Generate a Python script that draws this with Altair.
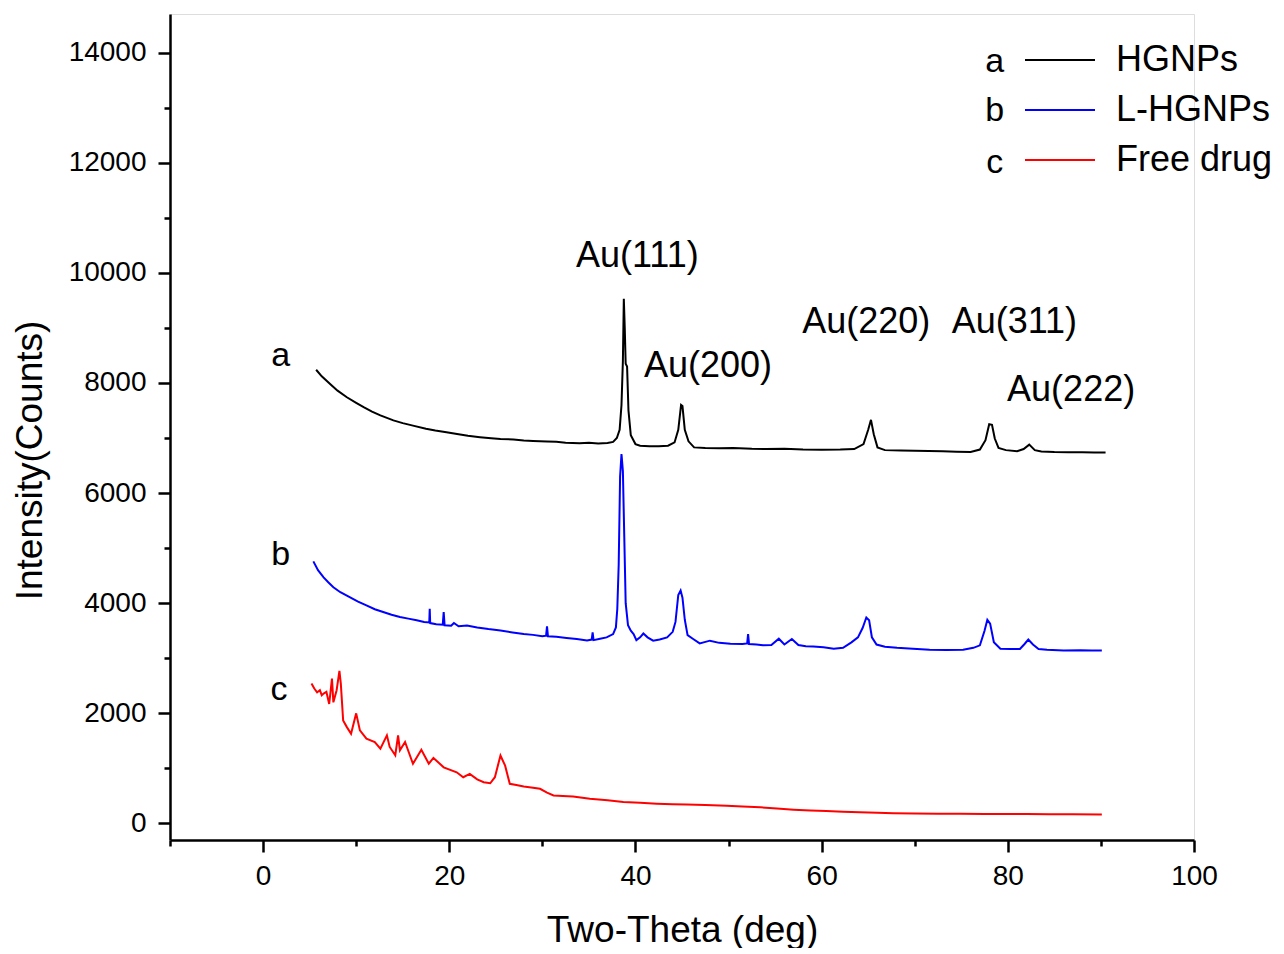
import altair as alt
import pandas as pd

# ---------------- data ----------------
series_names = ["HGNPs", "L-HGNPs", "Free drug"]
series_colors = ["#000000", "#0000ff", "#ff0000"]

hgnps_x = [5.7, 6.3, 7.2, 8.0, 9.0, 10.0, 10.8, 11.7, 12.6, 14.0, 15.0, 16.1, 17.5, 18.5, 19.7,
           21.0, 22.0, 23.3, 24.5, 25.5, 26.9, 28.0, 29.0, 30.5, 31.5, 32.5, 34.0, 35.0, 36.0,
           37.0, 37.6, 38.0, 38.3, 38.5, 38.65, 38.75, 38.85, 38.95, 39.1, 39.25, 39.5, 40.0,
           40.5, 41.5, 42.5, 43.5, 44.2, 44.6, 44.9, 45.05, 45.3, 45.7, 46.3, 47.5, 49.0, 50.5,
           52.5, 54.0, 56.0, 58.0, 60.0, 62.0, 63.5, 64.5, 65.0, 65.3, 65.6, 66.0, 66.8, 68.5,
           70.0, 71.5, 73.0, 74.5, 76.0, 77.0, 77.6, 78.0, 78.3, 78.6, 79.0, 79.8, 81.0, 81.7,
           82.3, 82.9, 83.6, 85.0, 86.5, 88.0, 89.3, 90.5]
hgnps_y = [8240, 8120, 7980, 7860, 7740, 7640, 7560, 7480, 7410, 7320, 7270, 7225, 7170, 7135, 7105,
           7070, 7040, 7015, 6995, 6980, 6975, 6955, 6945, 6935, 6930, 6915, 6905, 6915, 6900,
           6910, 6930, 7000, 7150, 7600, 8400, 9530, 9000, 8350, 8300, 7500, 7050, 6890,
           6860, 6850, 6850, 6860, 6920, 7150, 7600, 7580, 7150, 6940, 6830, 6820, 6815, 6820,
           6805, 6800, 6805, 6790, 6785, 6790, 6800, 6890, 7150, 7330, 7070, 6830, 6780, 6775,
           6770, 6765, 6760, 6750, 6745, 6790, 6960, 7250, 7240, 6990, 6820, 6780, 6760, 6800,
           6880, 6780, 6755, 6745, 6740, 6740, 6735, 6735]

lhgnps_x = [5.4, 5.9, 6.5, 7.0, 7.55, 8.3, 9.3, 10.2, 11.1, 12.0, 12.9, 13.8, 14.7, 15.6, 16.5,
            17.3, 17.85, 17.9, 17.95, 18.6, 19.3, 19.4, 19.5, 20.2, 20.5, 21.0, 21.9, 23.0, 24.2,
            25.5, 26.8, 28.0, 29.0, 30.0, 30.4, 30.5, 30.6, 31.5, 32.6, 33.7, 34.8, 35.3, 35.4,
            35.5, 36.2, 36.9, 37.6, 37.9, 38.05, 38.2, 38.35, 38.5, 38.65, 38.8, 38.95, 39.2,
            39.5, 39.8, 40.1, 40.5, 40.85, 41.3, 41.9, 42.6, 43.4, 44.0, 44.3, 44.6, 44.85,
            45.05, 45.3, 45.6, 46.2, 46.9, 48.0, 49.0, 50.2, 51.5, 52.0, 52.1, 52.2, 53.0, 53.7,
            54.6, 55.4, 56.0, 56.8, 57.5, 58.3, 59.1, 60.2, 61.3, 62.3, 63.2, 63.9, 64.4, 64.8,
            65.1, 65.4, 65.9, 66.8, 68.1, 69.8, 71.6, 73.4, 75.2, 76.3, 77.0, 77.5, 77.8, 78.1,
            78.5, 79.2, 80.3, 81.3, 81.8, 82.2, 82.7, 83.3, 84.2, 86.0, 87.8, 89.0, 90.1]
lhgnps_y = [4760, 4600, 4470, 4380, 4290, 4200, 4110, 4030, 3960, 3890, 3840, 3790, 3750, 3720, 3690,
            3660, 3650, 3900, 3640, 3620, 3610, 3840, 3600, 3590, 3640, 3580, 3595, 3560, 3530,
            3505, 3470, 3440, 3425, 3400, 3410, 3580, 3400, 3390, 3370, 3350, 3325, 3340, 3470,
            3330, 3355, 3380, 3440, 3560, 3900, 4700, 6300, 6710, 6400, 5200, 4000, 3600,
            3500, 3440, 3330, 3380, 3450, 3380, 3320, 3340, 3380, 3480, 3660, 4150, 4230,
            4100, 3700, 3420, 3350, 3270, 3320, 3280, 3265, 3260, 3270, 3440, 3260, 3250, 3235,
            3240, 3355, 3250, 3350, 3240, 3220, 3215, 3200, 3175, 3190, 3290, 3380, 3550, 3740,
            3690, 3380, 3250, 3210, 3190, 3175, 3155, 3150, 3155, 3190, 3235, 3500, 3700, 3630,
            3290, 3175, 3170, 3170, 3260, 3340, 3250, 3170, 3155, 3140, 3145, 3140, 3140]

drug_x = [5.2, 5.5, 5.8, 6.1, 6.3, 6.5, 6.8, 7.1, 7.4, 7.55, 7.9, 8.2, 8.35, 8.6, 9.0, 9.45, 10.0,
          10.4, 11.1, 12.0, 12.6, 13.3, 13.6, 14.2, 14.5, 14.7, 15.25, 16.1, 17.0, 17.8, 18.3,
          19.4, 20.8, 21.5, 22.2, 23.0, 23.7, 24.4, 24.9, 25.5, 26.0, 26.5, 27.2, 28.0, 29.0,
          29.75, 30.5, 31.2, 32.2, 33.3, 35.1, 37.0, 38.7, 40.5, 42.3, 44.0, 45.5, 47.5, 49.8,
          51.5, 53.4, 55.2, 57.0, 58.8, 60.5, 62.3, 64.1, 66.0, 67.7, 70.0, 72.5, 74.9, 77.5,
          80.0, 82.0, 84.5, 87.0, 90.1]
drug_y = [2540, 2450, 2380, 2420, 2330, 2360, 2390, 2170, 2630, 2200, 2420, 2770, 2540, 1870, 1750,
          1630, 2000, 1690, 1540, 1480, 1360, 1600, 1390, 1240, 1600, 1330, 1480, 1085, 1340,
          1085, 1190, 1020, 930, 840, 900, 800, 750, 730, 840, 1235, 1050, 720, 700, 670, 650,
          630, 560, 510, 500, 490, 450, 420, 390, 375, 360, 350, 345, 335, 320, 310, 295, 270,
          250, 235, 225, 215, 205, 195, 187, 182, 178, 176, 174, 172, 170, 168, 166, 163]

# peak labels and curve letters (text annotations, data coordinates)
peak_labels = ["Au(111)", "Au(200)", "Au(220)", "Au(311)", "Au(222)"]
peak_label_x = [40.2, 47.8, 64.8, 80.7, 86.8]
peak_label_y = [10314, 8299, 9098, 9098, 7863]

curve_letters = ["a", "b", "c"]
curve_letter_x = [1.9, 1.9, 1.7]
curve_letter_y = [8498, 4867, 2415]

legend_letter_x = [78.6, 78.6, 78.6]
legend_letter_y = [13830, 12930, 12000]

x_ticks = list(range(-10, 101, 10))
y_ticks = list(range(0, 14001, 1000))

# ---------------- build table ----------------
frames = []
for name, xs, ys in [(series_names[0], hgnps_x, hgnps_y),
                     (series_names[1], lhgnps_x, lhgnps_y),
                     (series_names[2], drug_x, drug_y)]:
    frames.append(pd.DataFrame({"theta": xs, "counts": ys, "sample": name}))
df = pd.concat(frames, ignore_index=True)

peaks_df = pd.DataFrame({"label": peak_labels, "theta": peak_label_x, "counts": peak_label_y})
letters_df = pd.DataFrame({"label": curve_letters + curve_letters,
                           "theta": curve_letter_x + legend_letter_x,
                           "counts": curve_letter_y + legend_letter_y})

FONT = "Liberation Sans"

x_scale = alt.Scale(domain=[-10, 100], nice=False, zero=False)
y_scale = alt.Scale(domain=[-300, 14700], nice=False, zero=False)

x_axis = alt.Axis(
    title="Two-Theta (deg)", values=x_ticks, grid=False,
    labelExpr="datum.value % 20 === 0 ? datum.label : ''",
    tickSize={"condition": {"test": "datum.value % 20 === 0", "value": 12}, "value": 6},
    labelFontSize=28, labelFont=FONT, labelColor="#000", labelPadding=10,
    labelOverlap=False, labelFlush=False,
    titleFontSize=37, titleFont=FONT, titleFontWeight="normal", titleColor="#000",
    titlePadding=22,
    domainColor="#000", domainWidth=2.5, tickColor="#000", tickWidth=2.5,
)
y_axis = alt.Axis(
    title="Intensity(Counts)", values=y_ticks, grid=False, format="d",
    labelExpr="datum.value % 2000 === 0 ? datum.label : ''",
    tickSize={"condition": {"test": "datum.value % 2000 === 0", "value": 12}, "value": 6},
    labelFontSize=28, labelFont=FONT, labelColor="#000", labelPadding=12,
    labelOverlap=False, labelFlush=False,
    titleFontSize=37, titleFont=FONT, titleFontWeight="normal", titleColor="#000",
    titlePadding=19, titleY=446,
    domainColor="#000", domainWidth=2.5, tickColor="#000", tickWidth=2.5,
)

lines = alt.Chart(df).mark_line(strokeWidth=2, clip=True).encode(
    x=alt.X("theta:Q", scale=x_scale, axis=x_axis),
    y=alt.Y("counts:Q", scale=y_scale, axis=y_axis),
    color=alt.Color(
        "sample:N",
        scale=alt.Scale(domain=series_names, range=series_colors),
        legend=alt.Legend(
            title=None, orient="none", legendX=872, legendY=28, padding=0,
            symbolType="M-2.5,0H2.5", symbolSize=784, symbolStrokeWidth=2,
            labelFontSize=36, labelFont=FONT, labelColor="#000", labelOffset=38,
            rowPadding=14,
        ),
    ),
    order=alt.Order("theta:Q"),
)

peak_text = alt.Chart(peaks_df).mark_text(
    font=FONT, fontSize=36, color="#000", align="center", baseline="middle"
).encode(x=alt.X("theta:Q", scale=x_scale), y=alt.Y("counts:Q", scale=y_scale), text="label:N")

letter_text = alt.Chart(letters_df).mark_text(
    font=FONT, fontSize=34, color="#000", align="center", baseline="middle"
).encode(x=alt.X("theta:Q", scale=x_scale), y=alt.Y("counts:Q", scale=y_scale), text="label:N")

chart = alt.layer(lines, peak_text, letter_text).properties(
    width=1024, height=826,
    padding={"left": 3, "top": 6, "right": 0, "bottom": 0},
).configure_view(stroke=None).configure(background="white")

chart.save("out.html", embed_options={"renderer": "svg", "actions": False})
